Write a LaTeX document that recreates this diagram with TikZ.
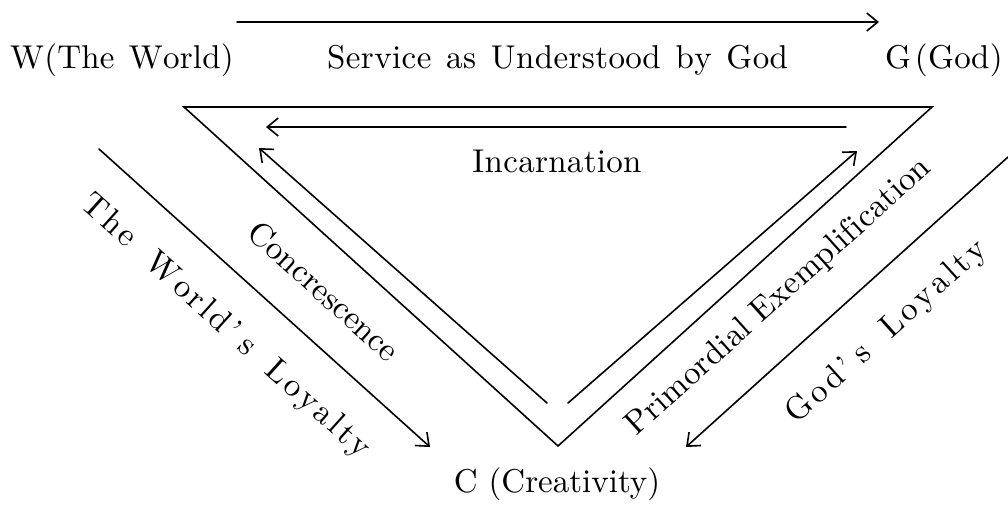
\documentclass[tikz,border=0pt]{standalone}
\usepackage{fontspec}
\setmainfont{lmroman10-regular.otf}
\usetikzlibrary{arrows.meta}
% letter-spacing helper
\newcommand\lspEnd{\relax LSPEND}
\newcommand\lsp[2]{\def\lspk{#1}\lspA#2\lspEnd\kern-\lspk}
\def\lspA#1{\ifx#1\lspEnd\else#1\kern\lspk\expandafter\lspA\fi}
\newcommand\ws{\ \kern3pt}
\newcommand\wws{\ \kern6pt}
\newcommand\gk{\kern3pt}
\newcommand\ak{\kern3pt}
\begin{document}
\begin{tikzpicture}[x=1pt,y=-1pt,
  lbl/.style={inner sep=0pt,font=\fontsize{33}{40}\selectfont},
  ln/.style={line width=1.6pt,line cap=round,line join=miter},
  arr/.style={ln,-{Straight Barb[length=11pt,width=18pt,line width=1.6pt]}}]
\useasboundingbox (0,0) rectangle (1008,504);
% coordinates
\coordinate (tl) at (184,107);
\coordinate (tr) at (932,107);
\coordinate (bt) at (558,446);
\coordinate (s1) at (237,22);
\coordinate (s2) at (879,22);
\coordinate (i1) at (846,127);
\coordinate (i2) at (266,127);
\coordinate (c1) at (547,403);
\coordinate (c2) at (259,148);
\coordinate (p1) at (568,403);
\coordinate (p2) at (857,151);
\coordinate (w1) at (99,149);
\coordinate (w2) at (430,447);
\coordinate (g1) at (1008,157);
\coordinate (g2) at (686,447);
% labels
\node[lbl,anchor=base west] (W) at (10,68) {\lsp{0.2pt}{W(The\ws World)}};
\node[lbl,anchor=base west] (S) at (327,68) {\lsp{0.4pt}{Service\ws as\ws Understood\ws by\ws God}};
\node[lbl,anchor=base east] (G) at (1003,68) {\lsp{0.4pt}{G\gk(God)}};
\node[lbl,anchor=base] (I) at (557,172) {\lsp{0.3pt}{Incarnation}};
\node[lbl,anchor=base] (C) at (557,492) {C (Creativity)};
\node[lbl,rotate=-42] (Cc) at (324,291) {Concrescence};
\node[lbl,rotate=42] (Pe) at (779,297) {\lsp{0.25pt}{Primordial\ Exemplification}};
\node[lbl,rotate=-42] (WL) at (225,327) {\lsp{3.2pt}{The\wws World'\ak s\wws Loyalty}};
\node[lbl,rotate=42] (GL) at (887,332) {\lsp{3.5pt}{God'\ak s\wws Loyalty}};
% drawing
\draw[ln] (tl) -- (tr) -- (bt) -- cycle;
\draw[arr] (s1) -- (s2);
\draw[arr] (i1) -- (i2);
\draw[arr] (c1) -- (c2);
\draw[arr] (p1) -- (p2);
\draw[arr] (w1) -- (w2);
\draw[arr] (g1) -- (g2);
\end{tikzpicture}
\end{document}
